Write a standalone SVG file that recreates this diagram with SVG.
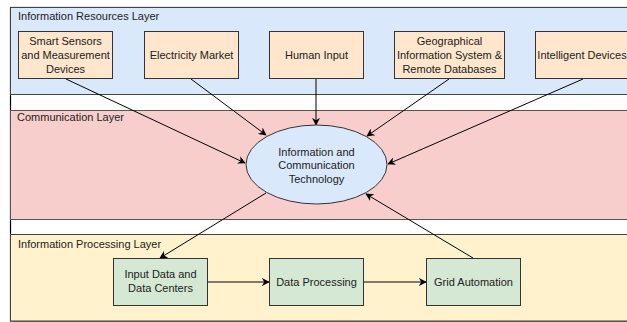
<svg xmlns="http://www.w3.org/2000/svg" width="627" height="322" viewBox="0 0 627 322">
  <defs>
    <marker id="arrow" viewBox="0 0 10 10" refX="9" refY="5" markerWidth="8" markerHeight="8" markerUnits="userSpaceOnUse" orient="auto">
      <path d="M0,0 L10,5 L0,10 L3,5 Z" fill="#000"/>
    </marker>
  </defs>
  <style>
    text { font-family: "Liberation Sans", Arial, sans-serif; font-size: 11px; fill: #222; }
    .mid { text-anchor: middle; }
    .layer-title { font-size: 11px; }
    .src { fill: #ffe6cc; stroke: #333; stroke-width: 1; }
    .proc { fill: #d5e8d4; stroke: #333; stroke-width: 1; }
    .edge { fill: none; stroke: #000; stroke-width: 1; marker-end: url(#arrow); }
  </style>

  <!-- outer frame -->
  <rect x="10.5" y="7.5" width="630" height="313.5" fill="#fff" stroke="#000" stroke-width="1.2"/>

  <!-- layers -->
  <g id="layer-resources">
    <rect x="10.5" y="7.5" width="630" height="87" fill="#dae8fc" stroke="#444" stroke-width="1"/>
    <text class="layer-title" x="18" y="20">Information Resources Layer</text>
  </g>
  <g id="layer-communication">
    <rect x="10.5" y="110.5" width="630" height="109" fill="#f8cecc" stroke="#555" stroke-width="1"/>
    <text class="layer-title" x="17" y="121">Communication Layer</text>
  </g>
  <g id="layer-processing">
    <rect x="10.5" y="234.5" width="630" height="86.5" fill="#fff2cc" stroke="#444" stroke-width="1"/>
    <text class="layer-title" x="18" y="248">Information Processing Layer</text>
  </g>

  <!-- connectors -->
  <g id="connectors">
    <line class="edge" x1="66" y1="79" x2="245" y2="163"/>
    <line class="edge" x1="191" y1="79" x2="266" y2="135"/>
    <line class="edge" x1="316" y1="79" x2="316" y2="125"/>
    <line class="edge" x1="449" y1="79" x2="367" y2="136"/>
    <line class="edge" x1="583" y1="79" x2="388" y2="164"/>
    <line class="edge" x1="266" y1="193" x2="160" y2="258"/>
    <line class="edge" x1="473" y1="258" x2="366" y2="194"/>
    <line class="edge" x1="207" y1="282" x2="269" y2="282"/>
    <line class="edge" x1="363" y1="282" x2="426" y2="282"/>
  </g>

  <!-- information sources -->
  <g id="smart-sensors">
    <rect class="src" x="18.5" y="31.5" width="94" height="47"/>
    <text class="mid" x="65.5" y="45">Smart Sensors</text>
    <text class="mid" x="65.5" y="59">and Measurement</text>
    <text class="mid" x="65.5" y="73">Devices</text>
  </g>
  <g id="electricity-market">
    <rect class="src" x="144.5" y="31.5" width="94" height="47"/>
    <text class="mid" x="191.5" y="59">Electricity Market</text>
  </g>
  <g id="human-input">
    <rect class="src" x="269.5" y="31.5" width="94" height="47"/>
    <text class="mid" x="316.5" y="59">Human Input</text>
  </g>
  <g id="gis-remote-db">
    <rect class="src" x="394.5" y="31.5" width="110" height="47"/>
    <text class="mid" x="449.5" y="45">Geographical</text>
    <text class="mid" x="449.5" y="59">Information System &amp;</text>
    <text class="mid" x="449.5" y="73">Remote Databases</text>
  </g>
  <g id="intelligent-devices">
    <rect class="src" x="535.5" y="31.5" width="95" height="47"/>
    <text class="mid" x="582" y="59">Intelligent Devices</text>
  </g>

  <!-- communication hub -->
  <g id="ict">
    <ellipse cx="316.5" cy="164.5" rx="70.5" ry="39.5" fill="#dae8fc" stroke="#333" stroke-width="1"/>
    <text class="mid" x="316.5" y="156">Information and</text>
    <text class="mid" x="316.5" y="169">Communication</text>
    <text class="mid" x="316.5" y="183">Technology</text>
  </g>

  <!-- processing chain -->
  <g id="input-data">
    <rect class="proc" x="113.5" y="258.5" width="94" height="47"/>
    <text class="mid" x="160.5" y="278">Input Data and</text>
    <text class="mid" x="160.5" y="292">Data Centers</text>
  </g>
  <g id="data-processing">
    <rect class="proc" x="269.5" y="258.5" width="94" height="47"/>
    <text class="mid" x="316.5" y="286">Data Processing</text>
  </g>
  <g id="grid-automation">
    <rect class="proc" x="426.5" y="258.5" width="94" height="47"/>
    <text class="mid" x="473.5" y="286">Grid Automation</text>
  </g>
</svg>
